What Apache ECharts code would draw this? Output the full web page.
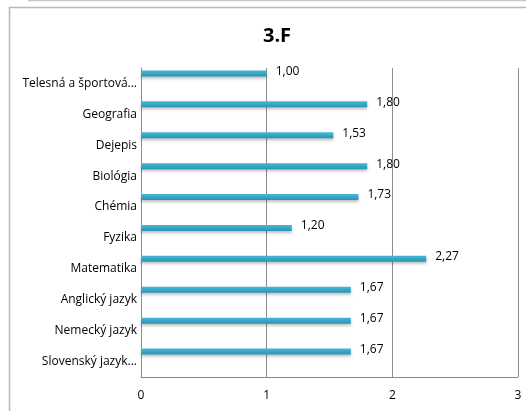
<!DOCTYPE html>
<html>
<head>
<meta charset="utf-8">
<script src="https://cdn.jsdelivr.net/npm/echarts@6/dist/echarts.min.js"></script>
<style>
html,body{margin:0;padding:0;background:#fff;}
#main{width:526px;height:411px;}
</style>
</head>
<body>
<div id="main"></div>
<script>
var subjects = ['Telesná a športová...', 'Geografia', 'Dejepis', 'Biológia', 'Chémia',
	'Fyzika', 'Matematika', 'Anglický jazyk', 'Nemecký jazyk', 'Slovenský jazyk...'];
var averages = [1.00, 1.80, 1.53, 1.80, 1.73, 1.20, 2.27, 1.67, 1.67, 1.67];
var xTicks = [0, 1, 2, 3];

var fontFam = 'Open Sans, Liberation Sans, sans-serif';

var option = {
	animation: false,
	title: {
		text: '3.F',
		left: 272,
		top: 21,
		textAlign: 'center',
		textStyle: { fontSize: 20, fontWeight: 'bold', color: '#000', fontFamily: fontFam }
	},
	graphic: [
		{ type: 'rect', shape: { x: 9.5, y: 7.5, width: 560, height: 450 },
		  style: { fill: 'none', stroke: '#b8b8b8', lineWidth: 1.5 } },
		{ type: 'line', shape: { x1: 28, y1: 0.5, x2: 526, y2: 0.5 },
		  style: { stroke: '#c8c8c8', lineWidth: 1.5 } }
	],
	grid: { left: 141, right: 8, top: 68, bottom: 34, containLabel: false },
	xAxis: {
		type: 'value',
		min: xTicks[0],
		max: xTicks[xTicks.length - 1],
		interval: 1,
		axisLine: { show: true, lineStyle: { color: '#888' } },
		axisTick: { show: false },
		axisLabel: { fontSize: 12, color: '#000', margin: 13, fontFamily: fontFam },
		splitLine: { show: true, lineStyle: { color: '#8c8c8c' } }
	},
	yAxis: {
		type: 'category',
		inverse: true,
		data: subjects,
		axisLine: { show: true, lineStyle: { color: '#8c8c8c' } },
		axisTick: { show: false },
		axisLabel: { fontSize: 12, color: '#000', margin: 4, fontFamily: fontFam }
	},
	series: [{
		type: 'bar',
		data: averages,
		barWidth: 6,
		barGap: '233%',
		itemStyle: {
			color: new echarts.graphic.LinearGradient(0, 0, 0, 1, [
				{ offset: 0, color: '#46b9d6' },
				{ offset: 1, color: '#2a93b5' }
			]),
			shadowColor: 'rgba(0,0,0,0.25)',
			shadowBlur: 3,
			shadowOffsetY: 2
		},
		label: {
			show: true,
			position: 'right',
			distance: 9,
			offset: [0, -2],
			fontSize: 12,
			color: '#000',
			fontFamily: fontFam,
			formatter: function (p) {
				return p.value.toFixed(2).replace('.', ',');
			}
		}
	}, {
		type: 'bar',
		data: [],
		barWidth: 6
	}]
};

var chart = echarts.init(document.getElementById('main'));
chart.setOption(option);
</script>
</body>
</html>
